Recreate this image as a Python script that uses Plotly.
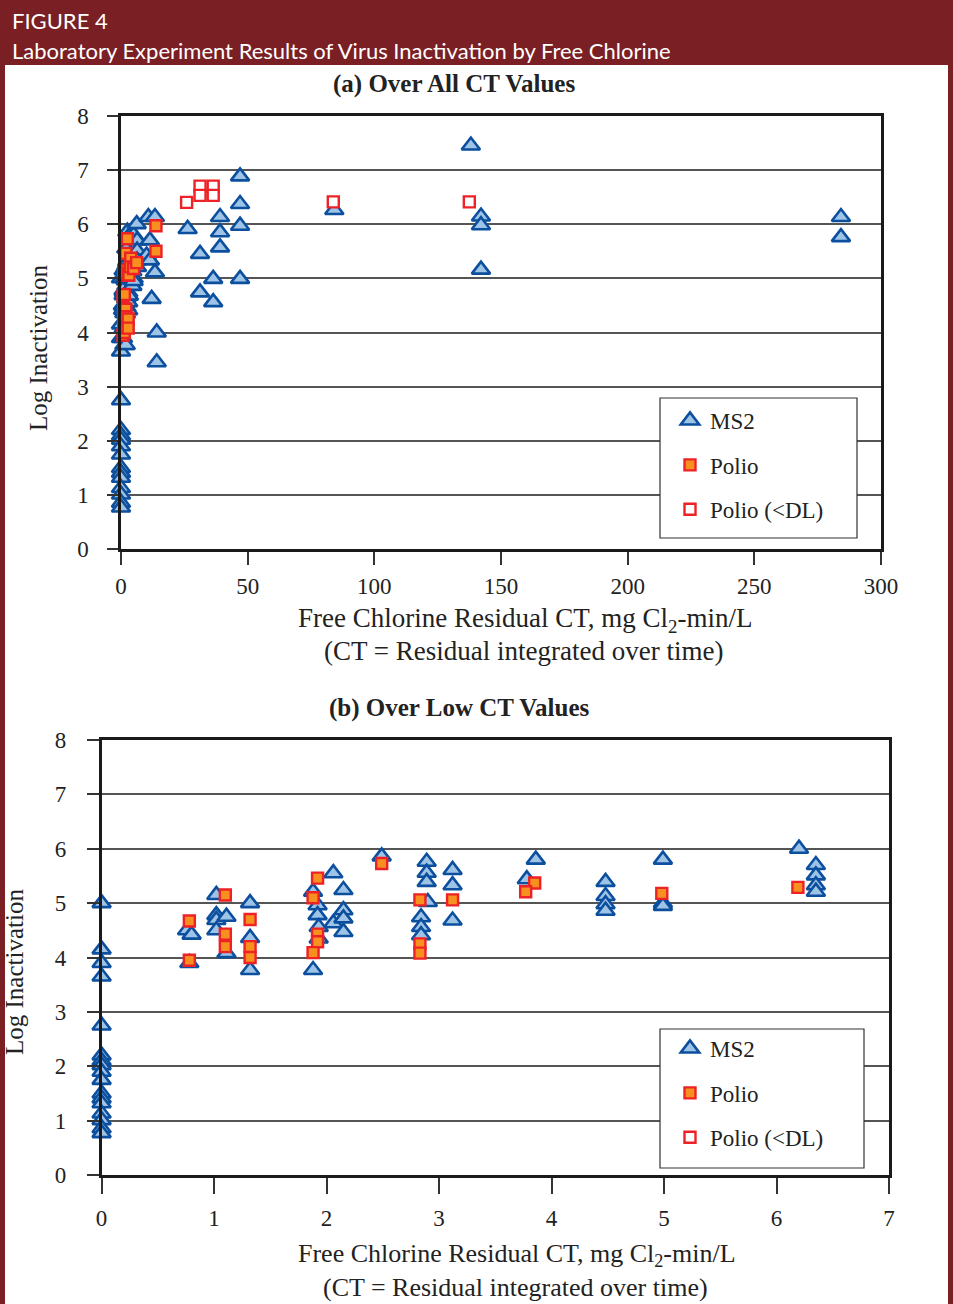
import plotly.graph_objects as go

# ---------------- data ----------------
ms2_ct = [0, 0, 0, 0, 0, 0, 0, 0, 0, 0, 0, 0, 0, 0, 0, 0, 0,
          0.76, 0.80, 0.78,
          1.02, 1.02, 1.02, 1.02, 1.11, 1.11,
          1.32, 1.32, 1.32,
          1.88, 1.92, 1.92, 1.93, 1.93, 1.88,
          2.06, 2.06, 2.15, 2.15, 2.15, 2.15,
          2.49,
          2.89, 2.89, 2.89, 2.90, 2.84, 2.84, 2.84,
          3.12, 3.12, 3.12,
          3.86, 3.78,
          4.48, 4.48, 4.48, 4.48,
          4.99, 4.99, 4.99,
          6.20, 6.35, 6.35, 6.35, 6.35,
          10.8, 13.4, 11.4, 10.1, 11.4, 13.4, 12.1, 14.1, 14.1,
          26.3, 31.2, 31.2, 36.4, 36.4, 39.1, 39.1, 39.1, 47.0, 47.0, 47.0, 47.0,
          84.2, 138.1, 142.1, 142.1, 142.1, 284.2, 284.2]
ms2_log = [5.0, 4.15, 3.9, 3.65, 2.75, 2.2, 2.1, 2.02, 1.9, 1.75, 1.5, 1.41, 1.32, 1.13, 1.01, 0.86, 0.77,
           4.5, 4.42, 3.9,
           5.15, 4.78, 4.69, 4.5, 4.75, 4.08,
           5.0, 4.36, 3.77,
           5.21, 4.96, 4.78, 4.56, 4.35, 3.77,
           5.55, 4.63, 5.24, 4.87, 4.72, 4.47,
           5.86,
           5.76, 5.56, 5.39, 5.02, 4.74, 4.56, 4.41,
           5.61, 5.33, 4.68,
           5.8, 5.44,
           5.39, 5.13, 4.98, 4.86,
           5.8, 5.0, 4.95,
           6.0, 5.7, 5.51, 5.33, 5.21,
           6.13, 6.13, 5.7, 5.42, 5.33, 5.11, 4.62, 4.0, 3.45,
           5.91, 5.45, 4.74, 4.99, 4.56, 6.13, 5.85, 5.57, 6.88, 6.37, 5.97, 4.99,
           6.26, 7.45, 6.14, 5.98, 5.16, 6.13, 5.76]

polio_ct = [0.78, 0.78, 1.10, 1.10, 1.10, 1.32, 1.32, 1.32,
            1.92, 1.88, 1.92, 1.92, 1.88, 2.49, 2.83, 2.83, 2.83,
            3.12, 3.85, 3.77, 4.98, 6.19, 13.8, 13.8]
polio_log = [4.67, 3.95, 5.15, 4.43, 4.2, 4.7, 4.2, 4.0,
             5.46, 5.10, 4.43, 4.29, 4.09, 5.73, 5.06, 4.25, 4.08,
             5.06, 5.37, 5.21, 5.18, 5.29, 5.97, 5.5]

polio_dl_ct = [25.9, 31.2, 36.4, 31.2, 36.4, 83.8, 137.5]
polio_dl_log = [6.40, 6.70, 6.70, 6.53, 6.53, 6.41, 6.41]

series_names = ["MS2", "Polio", "Polio (&lt;DL)"]
x_ticks_a = [0, 50, 100, 150, 200, 250, 300]
x_ticks_b = [0, 1, 2, 3, 4, 5, 6, 7]
y_ticks = [0, 1, 2, 3, 4, 5, 6, 7, 8]
LOW_CT_MAX = 7

# ---------------- geometry helpers ----------------
W, H = 953, 1304
def px(x):
    return x / W
def py(y):
    return 1 - y / H

SERIF = "Liberation Serif"
SANS = "Lato"
DARKRED = "#7a1f24"

styles = [
    dict(symbol="triangle-up", size=16, color="#9dc3e6", line=dict(color="#0c4f9e", width=2.6)),
    dict(symbol="square", size=11, color="#f7901e", line=dict(color="#ee2226", width=2.4)),
    dict(symbol="square", size=11, color="white", line=dict(color="#ee2226", width=2.4)),
]
all_series = [(ms2_ct, ms2_log), (polio_ct, polio_log), (polio_dl_ct, polio_dl_log)]

fig = go.Figure()

for panel, (xa, ya, leg) in enumerate([("x", "y", "legend"), ("x2", "y2", "legend2")]):
    for i, (cts, logs) in enumerate(all_series):
        if panel == 0:
            xs, ys = list(cts), list(logs)
        else:
            pairs = [(c, l) for c, l in zip(cts, logs) if c <= LOW_CT_MAX]
            xs = [p[0] for p in pairs]
            ys = [p[1] for p in pairs]
            if not xs:
                xs, ys = [None], [None]
        fig.add_trace(go.Scatter(
            x=xs, y=ys, mode="markers", name=series_names[i],
            marker=styles[i], xaxis=xa, yaxis=ya, legend=leg,
            legendgroup=f"{leg}_{i}", cliponaxis=False, hoverinfo="skip",
        ))

axis_common = dict(showline=True, linecolor="#1a1a1a", linewidth=2.5, mirror=True,
                   ticks="outside", tickcolor="#333", tickwidth=1.5, automargin=False,
                   tickfont=dict(family=SERIF, size=23, color="#222"), zeroline=False)

fig.update_layout(
    template="none",
    width=W, height=H, autosize=False,
    margin=dict(l=0, r=0, t=0, b=0, pad=0, autoexpand=False),
    paper_bgcolor=DARKRED, plot_bgcolor="white",
    showlegend=True,
    xaxis=dict(domain=[px(121), px(881)], range=[0, 300], tickvals=x_ticks_a,
               showgrid=False, ticklen=13, ticklabelstandoff=1, anchor="y", **axis_common),
    yaxis=dict(domain=[py(549.3), py(115.7)], range=[0, 8], tickvals=y_ticks,
               showgrid=True, gridcolor="#555", gridwidth=1.5, ticklen=11,
               ticklabelstandoff=14, anchor="x", **axis_common),
    xaxis2=dict(domain=[px(101.6), px(889)], range=[0, 7], tickvals=x_ticks_b,
                showgrid=False, ticklen=16, ticklabelstandoff=5, anchor="y2", **axis_common),
    yaxis2=dict(domain=[py(1175), py(740)], range=[0, 8], tickvals=y_ticks,
                showgrid=True, gridcolor="#555", gridwidth=1.5, ticklen=12,
                ticklabelstandoff=16, anchor="x2", **axis_common),
    legend=dict(x=px(670), y=py(399), xanchor="left", yanchor="top",
                bgcolor="rgba(0,0,0,0)", borderwidth=0, tracegroupgap=11.5,
                font=dict(family=SERIF, size=23, color="#222")),
    legend2=dict(x=px(670), y=py(1027), xanchor="left", yanchor="top",
                 bgcolor="rgba(0,0,0,0)", borderwidth=0, tracegroupgap=11.5,
                 font=dict(family=SERIF, size=23, color="#222")),
)

shapes = [
    dict(type="rect", xref="paper", yref="paper", x0=px(5), x1=px(948), y0=0, y1=py(65),
         fillcolor="white", line=dict(width=0), layer="below"),
    dict(type="rect", xref="paper", yref="paper", x0=px(660), x1=px(857), y0=py(538), y1=py(398),
         fillcolor="white", line=dict(color="#333", width=1.2), layer="above"),
    dict(type="rect", xref="paper", yref="paper", x0=px(660), x1=px(864), y0=py(1168), y1=py(1029),
         fillcolor="white", line=dict(color="#333", width=1.2), layer="above"),
]
fig.update_layout(shapes=shapes)

def ann(text, x, y, size, family=SERIF, color="#222", xanchor="center", angle=0, bold=False):
    if bold:
        text = f"<b>{text}</b>"
    return dict(text=text, x=px(x), y=py(y), xref="paper", yref="paper",
                xanchor=xanchor, yanchor="middle", showarrow=False, textangle=angle,
                font=dict(family=family, size=size, color=color))

annotations = [
    ann("FIGURE 4", 10, 20, 22, family=SANS, color="white", xanchor="left"),
    ann("Laboratory Experiment Results of Virus Inactivation by Free Chlorine", 10, 50, 22,
        family=SANS, color="white", xanchor="left"),
    ann("(a) Over All CT Values", 454, 84, 25, bold=True),
    ann("Free Chlorine Residual CT, mg Cl<sub>2</sub>-min/L", 525, 620, 27),
    ann("(CT = Residual integrated over time)", 523, 651, 27),
    ann("Log Inactivation", 38, 348, 25, angle=-90),
    ann("(b) Over Low CT Values", 459, 708, 25, bold=True),
    ann("Free Chlorine Residual CT, mg Cl<sub>2</sub>-min/L", 517, 1255, 26),
    ann("(CT = Residual integrated over time)", 515, 1287, 26),
    ann("Log Inactivation", 14, 972, 25, angle=-90),
]
fig.update_layout(annotations=annotations)

fig.write_html(
    "out.html",
    config={"displayModeBar": False},
    post_script="document.documentElement.style.margin='0';document.body.style.margin='0';"
                "document.body.style.overflow='hidden';",
)
